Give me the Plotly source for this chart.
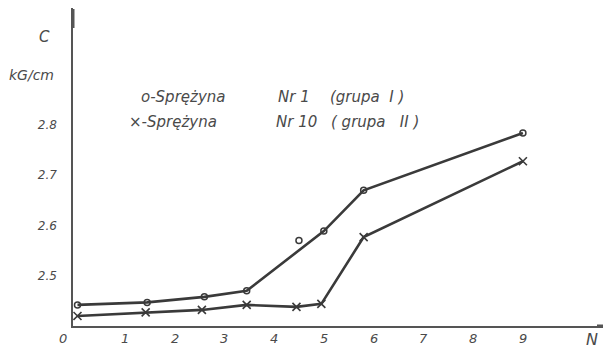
import plotly.graph_objects as go

# Data
n_spring1 = [0.05, 1.45, 2.6, 3.45, 5.0, 5.8, 9.0]
c_spring1 = [2.442, 2.447, 2.458, 2.47, 2.589, 2.67, 2.784]
n_spring1_extra = [4.5]
c_spring1_extra = [2.57]

n_spring10 = [0.05, 1.42, 2.55, 3.45, 4.45, 4.95, 5.8, 9.0]
c_spring10 = [2.42, 2.427, 2.432, 2.442, 2.438, 2.444, 2.577, 2.728]

x_ticks = [1, 2, 3, 4, 5, 6, 7, 8, 9]
x_tick_labels = ["1", "2", "3", "4", "5", "6", "7", "8", "9"]
y_ticks = [2.5, 2.6, 2.7, 2.8]
y_tick_labels = ["2.5", "2.6", "2.7", "2.8"]

# page body has an 8px margin: figure occupies window pixels 8..611 x 8..348
OFF = 8
W, H = 611 - OFF, 348 - OFF
L, R, T, B = 73 - OFF, 0, 0, 22
PW, PH = W - L - R, H - T - B

def px(x):  # window pixel -> paper
    return (x - OFF - L) / PW

def py(y):
    return (H - B - (y - OFF)) / PH

line_col = "#3a3a3a"
text_col = "#4a4a4a"
FONT = "DejaVu Sans"

fig = go.Figure()
fig.add_trace(go.Scatter(
    x=n_spring1, y=c_spring1, mode="lines+markers",
    line=dict(color=line_col, width=2.6),
    marker=dict(symbol="circle-open", size=6, color=line_col, line=dict(width=1.5)),
    showlegend=False))
fig.add_trace(go.Scatter(
    x=n_spring1_extra, y=c_spring1_extra, mode="markers",
    marker=dict(symbol="circle-open", size=6, color=line_col, line=dict(width=1.5)),
    showlegend=False))
fig.add_trace(go.Scatter(
    x=n_spring10, y=c_spring10, mode="lines+markers",
    line=dict(color=line_col, width=2.6),
    marker=dict(symbol="x-thin-open", size=8, color=line_col, line=dict(width=1.6, color=line_col)),
    showlegend=False))

fig.update_layout(
    width=W, height=H,
    margin=dict(l=L, r=R, t=T, b=B),
    paper_bgcolor="white", plot_bgcolor="white",
    font=dict(family=FONT, color=text_col, size=13),
    xaxis=dict(range=[-0.04, 10.77], showticklabels=False,
               showgrid=False, zeroline=False, showline=True, linecolor="#555", linewidth=1.5,
               ticks=""),
    yaxis=dict(range=[2.4, 3.033], tickvals=y_ticks, ticktext=y_tick_labels,
               showgrid=False, zeroline=False, showline=True, linecolor="#555", linewidth=1.5,
               ticks="", tickfont=dict(size=12, color=text_col, style="italic", family=FONT),
               ticklabelstandoff=12),
)

def label(text, x, y, size=13, anchor="left"):
    fig.add_annotation(text=text, x=px(x), y=py(y), xref="paper", yref="paper",
                       showarrow=False, xanchor=anchor, yanchor="middle",
                       font=dict(size=size, color=text_col, family=FONT, style="italic"))

# x tick labels placed at their data positions just below the axis
for v, t in zip(x_ticks, x_tick_labels):
    fig.add_annotation(text=t, x=v, y=py(338), xref="x", yref="paper",
                       showarrow=False, xanchor="center", yanchor="middle",
                       font=dict(size=13, color=text_col, family=FONT, style="italic"))

label("0", 63, 338, anchor="center")
label("N", 592, 339, size=16, anchor="center")
label("C", 44, 37, size=15, anchor="center")
label("kG/cm", 31, 75, size=14, anchor="center")

label("o-Sprężyna", 139, 97, size=15)
label("Nr 1", 276, 97, size=15)
label("(grupa  I )", 328, 97, size=15)
label("×-Sprężyna", 127, 122, size=15)
label("Nr 10", 274, 122, size=15)
label("( grupa   II )", 329, 122, size=15)

# thick ends of the axes
fig.add_shape(type="line", xref="paper", yref="paper", x0=0, x1=0, y0=py(9), y1=py(28),
              line=dict(color="#555", width=3))
fig.add_shape(type="line", xref="paper", yref="paper", x0=px(597), x1=px(611), y0=0, y1=0,
              line=dict(color="#555", width=3))

fig.write_html("out.html")
